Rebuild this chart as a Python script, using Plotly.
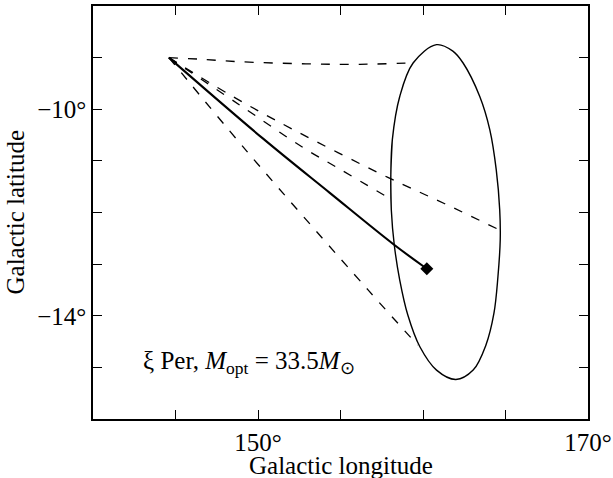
import plotly.graph_objects as go

# ---- data (galactic longitude / latitude, degrees) ----
solid_lon = [144.6, 150.31, 154.35, 158.19, 160.23]
solid_lat = [-9.0, -10.57, -11.62, -12.61, -13.09]

star_lon = [160.23]
star_lat = [-13.09]

dash_top_lon = [144.6, 146.47, 148.90, 152.90, 156.17, 159.38]
dash_top_lat = [-9.0, -9.03, -9.08, -9.12, -9.13, -9.10]

dash_a_lon = [144.6, 148.29, 152.05, 157.87, 161.32, 164.65]
dash_a_lat = [-9.0, -9.72, -10.38, -11.32, -11.83, -12.34]

dash_b_lon = [144.6, 148.90, 152.72, 154.96, 157.99]
dash_b_lat = [-9.0, -9.92, -10.74, -11.16, -11.73]

dash_c_lon = [144.6, 149.34, 156.67, 159.68]
dash_c_lat = [-9.0, -10.82, -13.50, -14.57]

ellipse_lon = [158.08, 158.05, 158.14, 158.59, 159.40, 160.82, 161.81, 162.43, 163.44, 164.05,
               164.44, 164.65, 164.68, 164.54, 164.30, 163.81, 163.04, 161.99, 160.82,
               159.81, 159.08, 158.59, 158.26, 158.08, 158.05, 158.14]
ellipse_lat = [-11.95, -11.271, -10.592, -9.752, -9.104, -8.749, -8.874, -9.104, -9.752, -10.398,
               -11.174, -11.95, -12.532, -13.25, -13.95, -14.57, -15.053, -15.234, -15.053,
               -14.601, -13.986, -13.308, -12.629, -11.95, -11.271, -10.592]

x_tickvals = [140, 145, 150, 155, 160, 165, 170]
x_ticktext = ["", "", "150°", "", "", "", "170°"]
y_tickvals = [-16, -15, -14, -13, -12, -11, -10, -9, -8]
y_ticktext = ["", "", "−14°", "", "", "", "−10°", "", ""]

FONT = "Liberation Serif, Times New Roman, serif"

fig = go.Figure()

dash_style = dict(color="black", width=1.3, dash="9px,10px")
for lo, la in [(dash_top_lon, dash_top_lat), (dash_a_lon, dash_a_lat),
               (dash_b_lon, dash_b_lat), (dash_c_lon, dash_c_lat)]:
    fig.add_trace(go.Scatter(x=lo, y=la, mode="lines", line=dict(**dash_style, shape="spline"),
                             hoverinfo="skip", showlegend=False))

fig.add_trace(go.Scatter(x=ellipse_lon, y=ellipse_lat, mode="lines",
                         line=dict(color="black", width=1.4, shape="spline", smoothing=1.0),
                         showlegend=False))

fig.add_trace(go.Scatter(x=solid_lon, y=solid_lat, mode="lines",
                         line=dict(color="black", width=2.1, shape="spline"),
                         showlegend=False))

fig.add_trace(go.Scatter(x=star_lon, y=star_lat, mode="markers",
                         marker=dict(symbol="diamond", size=10, color="black"),
                         showlegend=False))

axis_common = dict(showgrid=False, zeroline=False, showline=True, linecolor="black",
                   linewidth=1.5, mirror="ticks", ticks="inside", ticklen=9,
                   tickwidth=1.2, tickcolor="black", automargin=False,
                   tickfont=dict(family=FONT, size=25, color="black"))

fig.update_xaxes(range=[140, 170], tickmode="array", tickvals=x_tickvals,
                 ticktext=x_ticktext, **axis_common)
fig.update_yaxes(range=[-16, -8], tickmode="array", tickvals=y_tickvals,
                 ticktext=y_ticktext, **axis_common)

fig.add_annotation(text="ξ Per, <i>M</i><sub>opt</sub> = 33.5<i>M</i><sub>⊙</sub>",
                   x=142.9, y=-14.9, xref="x", yref="y", xanchor="left", yanchor="middle",
                   showarrow=False, font=dict(family=FONT, size=25, color="black"))

fig.add_annotation(text="Galactic longitude", x=0.5, y=0, xref="paper", yref="paper",
                   xanchor="center", yanchor="middle", yshift=-46, showarrow=False,
                   font=dict(family=FONT, size=25, color="black"))
fig.add_annotation(text="Galactic latitude", x=0, y=0.5, xref="paper", yref="paper",
                   xanchor="center", yanchor="middle", xshift=-78, textangle=-90,
                   showarrow=False, font=dict(family=FONT, size=25, color="black"))

fig.update_layout(width=613, height=478, margin=dict(l=93, r=25, t=6, b=59),
                  paper_bgcolor="white", plot_bgcolor="white", showlegend=False)

fig.write_html("out.html", config={"displayModeBar": False},
               post_script="document.body.style.margin='0';")
